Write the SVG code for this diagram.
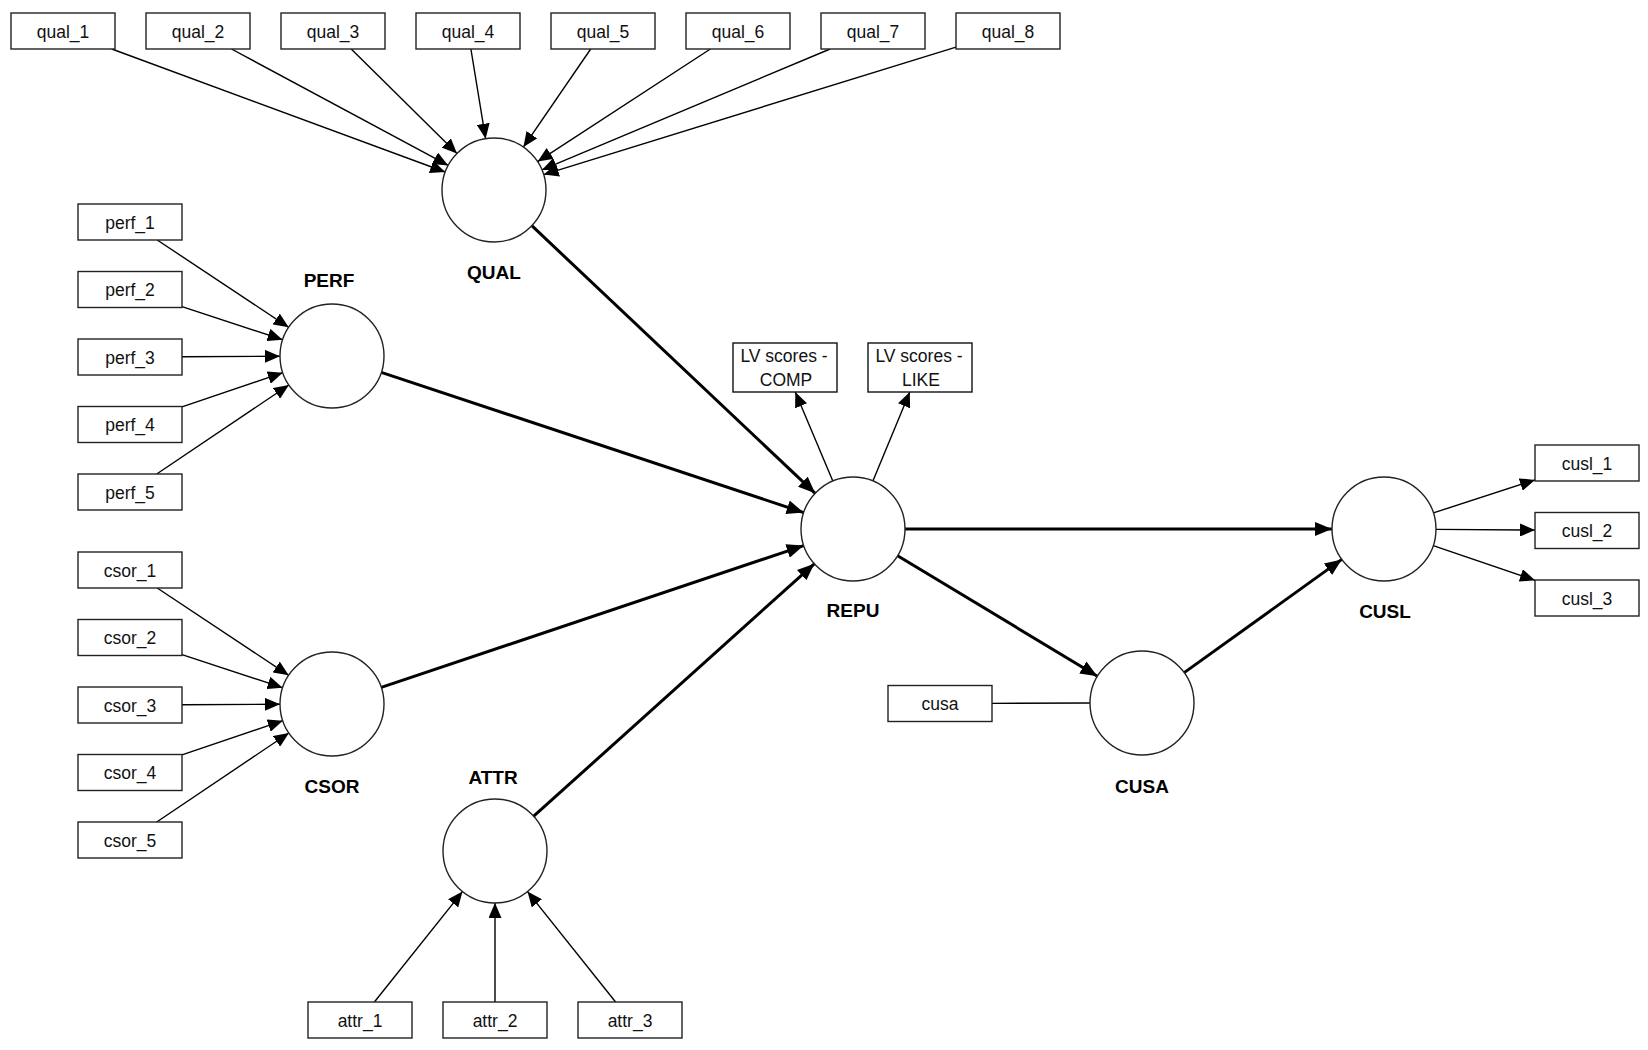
<svg xmlns="http://www.w3.org/2000/svg" width="1648" height="1050" viewBox="0 0 1648 1050">
<style>
.bx{fill:#fff;stroke:#222;stroke-width:1.4}
.lv{fill:#fff;stroke:#111;stroke-width:1.4}
.t{font-family:"Liberation Sans",Arial,sans-serif;font-size:17.5px;fill:#111;text-anchor:middle}
.b{font-family:"Liberation Sans",Arial,sans-serif;font-size:19px;font-weight:bold;fill:#000;text-anchor:middle}
.thin{stroke:#000;stroke-width:1.4;fill:none}
.thick{stroke:#000;stroke-width:3;fill:none}
</style>
<defs>
<marker id="ah" markerUnits="userSpaceOnUse" markerWidth="15" markerHeight="13" refX="15" refY="6.5" orient="auto" viewBox="0 0 15 13"><path d="M0,0 L15,6.5 L0,13 z" fill="#000"/></marker>
<marker id="ahk" markerUnits="userSpaceOnUse" markerWidth="17" markerHeight="14" refX="17" refY="7" orient="auto" viewBox="0 0 17 14"><path d="M0,0 L17,7 L0,14 z" fill="#000"/></marker>
</defs>
<rect width="1648" height="1050" fill="#fff"/>
<g id="connectors">
<line class="thin" x1="111.8" y1="49" x2="445.2" y2="172" marker-end="url(#ah)"/>
<line class="thin" x1="231.5" y1="49" x2="448.2" y2="165.4" marker-end="url(#ah)"/>
<line class="thin" x1="351.2" y1="49" x2="457" y2="153.5" marker-end="url(#ah)"/>
<line class="thin" x1="470.9" y1="49" x2="485.6" y2="138.7" marker-end="url(#ah)"/>
<line class="thin" x1="590.7" y1="49" x2="523.4" y2="147.1" marker-end="url(#ah)"/>
<line class="thin" x1="710.4" y1="49" x2="537.6" y2="161.6" marker-end="url(#ah)"/>
<line class="thin" x1="830.1" y1="49" x2="541.9" y2="169.9" marker-end="url(#ah)"/>
<line class="thin" x1="956" y1="47.1" x2="543.7" y2="174.6" marker-end="url(#ah)"/>
<line class="thin" x1="157.2" y1="240" x2="288.7" y2="327.3" marker-end="url(#ah)"/>
<line class="thin" x1="182" y1="306.6" x2="282.6" y2="339.7" marker-end="url(#ah)"/>
<line class="thin" x1="182" y1="356.7" x2="280" y2="356.3" marker-end="url(#ah)"/>
<line class="thin" x1="182" y1="406.9" x2="282.8" y2="372.7" marker-end="url(#ah)"/>
<line class="thin" x1="156.7" y1="474" x2="288.9" y2="385" marker-end="url(#ah)"/>
<line class="thin" x1="157.2" y1="588" x2="288.7" y2="675.3" marker-end="url(#ah)"/>
<line class="thin" x1="182" y1="654.6" x2="282.6" y2="687.7" marker-end="url(#ah)"/>
<line class="thin" x1="182" y1="704.7" x2="280" y2="704.3" marker-end="url(#ah)"/>
<line class="thin" x1="182" y1="754.9" x2="282.8" y2="720.7" marker-end="url(#ah)"/>
<line class="thin" x1="156.7" y1="822" x2="288.9" y2="733" marker-end="url(#ah)"/>
<line class="thin" x1="374.4" y1="1002" x2="462.5" y2="891.6" marker-end="url(#ah)"/>
<line class="thin" x1="495" y1="1002" x2="495" y2="903" marker-end="url(#ah)"/>
<line class="thin" x1="615.6" y1="1002" x2="527.5" y2="891.6" marker-end="url(#ah)"/>
<line class="thin" x1="832.8" y1="481.1" x2="795.3" y2="392" marker-end="url(#ah)"/>
<line class="thin" x1="872.9" y1="481" x2="909.8" y2="392" marker-end="url(#ah)"/>
<line class="thin" x1="1433.4" y1="512.9" x2="1535" y2="479.9" marker-end="url(#ah)"/>
<line class="thin" x1="1436" y1="529.4" x2="1535" y2="530.1" marker-end="url(#ah)"/>
<line class="thin" x1="1433.2" y1="545.7" x2="1535" y2="580.3" marker-end="url(#ah)"/>
<line class="thin" x1="992" y1="703.4" x2="1090" y2="703"/>
<line class="thick" x1="531.8" y1="225.7" x2="815.2" y2="493.3" marker-end="url(#ahk)"/>
<line class="thick" x1="381.3" y1="372.4" x2="803.7" y2="512.6" marker-end="url(#ahk)"/>
<line class="thick" x1="381.3" y1="687.4" x2="803.7" y2="545.6" marker-end="url(#ahk)"/>
<line class="thick" x1="533.7" y1="816.2" x2="814.3" y2="563.8" marker-end="url(#ahk)"/>
<line class="thick" x1="905" y1="529" x2="1332" y2="529" marker-end="url(#ahk)"/>
<line class="thick" x1="897.6" y1="555.8" x2="1097.4" y2="676.2" marker-end="url(#ahk)"/>
<line class="thick" x1="1184.2" y1="672.6" x2="1341.8" y2="559.4" marker-end="url(#ahk)"/>
</g>
<g id="qual_1"><rect class="bx" x="11" y="13" width="104" height="36"/><text class="t" x="63" y="37.5">qual_1</text></g>
<g id="qual_2"><rect class="bx" x="146" y="13" width="104" height="36"/><text class="t" x="198" y="37.5">qual_2</text></g>
<g id="qual_3"><rect class="bx" x="281" y="13" width="104" height="36"/><text class="t" x="333" y="37.5">qual_3</text></g>
<g id="qual_4"><rect class="bx" x="416" y="13" width="104" height="36"/><text class="t" x="468" y="37.5">qual_4</text></g>
<g id="qual_5"><rect class="bx" x="551" y="13" width="104" height="36"/><text class="t" x="603" y="37.5">qual_5</text></g>
<g id="qual_6"><rect class="bx" x="686" y="13" width="104" height="36"/><text class="t" x="738" y="37.5">qual_6</text></g>
<g id="qual_7"><rect class="bx" x="821" y="13" width="104" height="36"/><text class="t" x="873" y="37.5">qual_7</text></g>
<g id="qual_8"><rect class="bx" x="956" y="13" width="104" height="36"/><text class="t" x="1008" y="37.5">qual_8</text></g>
<g id="perf_1"><rect class="bx" x="78" y="204" width="104" height="36"/><text class="t" x="130" y="228.5">perf_1</text></g>
<g id="perf_2"><rect class="bx" x="78" y="271.5" width="104" height="36"/><text class="t" x="130" y="296">perf_2</text></g>
<g id="perf_3"><rect class="bx" x="78" y="339" width="104" height="36"/><text class="t" x="130" y="363.5">perf_3</text></g>
<g id="perf_4"><rect class="bx" x="78" y="406.5" width="104" height="36"/><text class="t" x="130" y="431">perf_4</text></g>
<g id="perf_5"><rect class="bx" x="78" y="474" width="104" height="36"/><text class="t" x="130" y="498.5">perf_5</text></g>
<g id="csor_1"><rect class="bx" x="78" y="552" width="104" height="36"/><text class="t" x="130" y="576.5">csor_1</text></g>
<g id="csor_2"><rect class="bx" x="78" y="619.5" width="104" height="36"/><text class="t" x="130" y="644">csor_2</text></g>
<g id="csor_3"><rect class="bx" x="78" y="687" width="104" height="36"/><text class="t" x="130" y="711.5">csor_3</text></g>
<g id="csor_4"><rect class="bx" x="78" y="754.5" width="104" height="36"/><text class="t" x="130" y="779">csor_4</text></g>
<g id="csor_5"><rect class="bx" x="78" y="822" width="104" height="36"/><text class="t" x="130" y="846.5">csor_5</text></g>
<g id="attr_1"><rect class="bx" x="308" y="1002" width="104" height="36"/><text class="t" x="360" y="1026.5">attr_1</text></g>
<g id="attr_2"><rect class="bx" x="443" y="1002" width="104" height="36"/><text class="t" x="495" y="1026.5">attr_2</text></g>
<g id="attr_3"><rect class="bx" x="578" y="1002" width="104" height="36"/><text class="t" x="630" y="1026.5">attr_3</text></g>
<g id="cusl_1"><rect class="bx" x="1535" y="445" width="104" height="36"/><text class="t" x="1587" y="469.5">cusl_1</text></g>
<g id="cusl_2"><rect class="bx" x="1535" y="512.5" width="104" height="36"/><text class="t" x="1587" y="537">cusl_2</text></g>
<g id="cusl_3"><rect class="bx" x="1535" y="580" width="104" height="36"/><text class="t" x="1587" y="604.5">cusl_3</text></g>
<g id="cusa"><rect class="bx" x="888" y="685.5" width="104" height="36"/><text class="t" x="940" y="710">cusa</text></g>
<g id="lv_comp"><rect class="lv" x="733" y="343" width="104" height="49"/><text class="t" x="784" y="361.5">LV scores -</text><text class="t" x="786" y="385.5">COMP</text></g>
<g id="lv_like"><rect class="lv" x="868" y="343" width="104" height="49"/><text class="t" x="919" y="361.5">LV scores -</text><text class="t" x="921" y="385.5">LIKE</text></g>
<g id="QUAL"><circle class="bx" cx="494" cy="190" r="52"/><text class="b" x="494" y="279">QUAL</text></g>
<g id="PERF"><circle class="bx" cx="332" cy="356" r="52"/><text class="b" x="329" y="287">PERF</text></g>
<g id="CSOR"><circle class="bx" cx="332" cy="704" r="52"/><text class="b" x="332" y="793">CSOR</text></g>
<g id="ATTR"><circle class="bx" cx="495" cy="851" r="52"/><text class="b" x="493" y="784">ATTR</text></g>
<g id="REPU"><circle class="bx" cx="853" cy="529" r="52"/><text class="b" x="853" y="617">REPU</text></g>
<g id="CUSA"><circle class="bx" cx="1142" cy="703" r="52"/><text class="b" x="1142" y="793">CUSA</text></g>
<g id="CUSL"><circle class="bx" cx="1384" cy="529" r="52"/><text class="b" x="1385" y="618">CUSL</text></g>
</svg>
